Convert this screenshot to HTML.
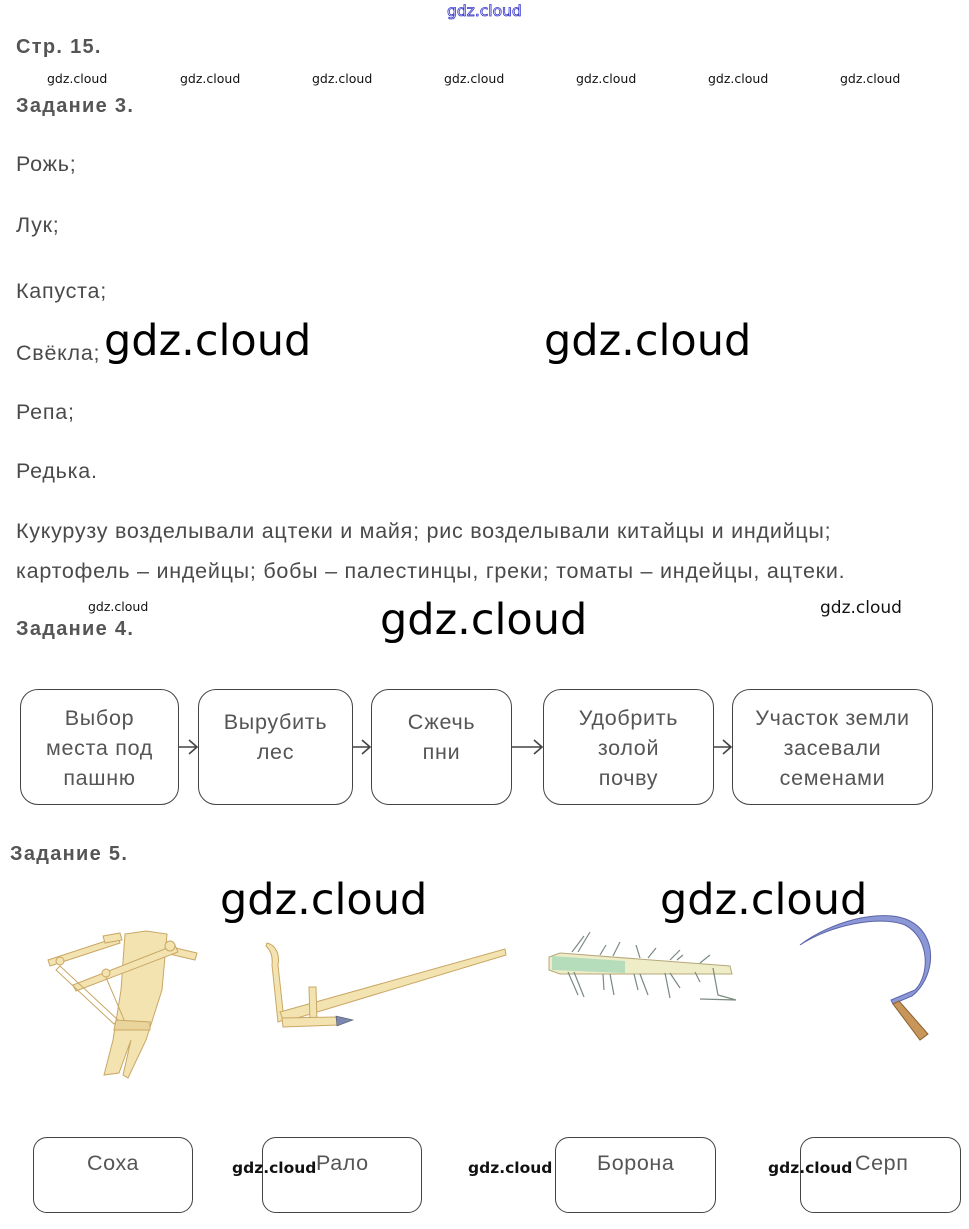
<!DOCTYPE html>
<html><head><meta charset="utf-8">
<style>
html,body{margin:0;padding:0;background:#fff;}
body{width:969px;height:1229px;position:relative;overflow:hidden;font-family:"Liberation Sans",Arial,sans-serif;color:#4a4a4a;}
.a{position:absolute;white-space:nowrap;}
.t{font-size:21.5px;line-height:30px;color:#4a4a4a;letter-spacing:0.75px;}
.h{font-size:20px;line-height:26px;font-weight:bold;color:#555;letter-spacing:1.3px;}
.ws{font-family:"DejaVu Sans","Liberation Sans",sans-serif;font-size:12.5px;line-height:16px;color:#111;}
.wm{font-family:"DejaVu Sans","Liberation Sans",sans-serif;font-size:17px;line-height:20px;color:#111;}
.wbb{font-family:"DejaVu Sans","Liberation Sans",sans-serif;font-size:15.5px;line-height:20px;color:#111;font-weight:bold;}
.wb{font-family:"DejaVu Sans","Liberation Sans",sans-serif;font-size:43px;line-height:56px;color:#000;}
.box{position:absolute;border:1.5px solid #444;border-radius:18px;box-sizing:border-box;text-align:center;font-size:21.5px;line-height:30px;color:#555;letter-spacing:0.7px;}
.bb{position:absolute;border:1.3px solid #444;border-radius:14px;box-sizing:border-box;}
.bt{position:absolute;white-space:nowrap;font-size:21.5px;line-height:30px;color:#555;letter-spacing:0.6px;}
</style></head><body>

<div class="a" style="left:447px;top:1px;font-family:'DejaVu Sans',sans-serif;font-size:15.5px;line-height:20px;color:#fff;-webkit-text-stroke:0.8px #3333cc;">gdz.cloud</div>

<div class="a h" style="left:16px;top:34px;">Стр. 15.</div>
<div class="a ws" style="left:47px;top:71px;">gdz.cloud</div>
<div class="a ws" style="left:180px;top:71px;">gdz.cloud</div>
<div class="a ws" style="left:312px;top:71px;">gdz.cloud</div>
<div class="a ws" style="left:444px;top:71px;">gdz.cloud</div>
<div class="a ws" style="left:576px;top:71px;">gdz.cloud</div>
<div class="a ws" style="left:708px;top:71px;">gdz.cloud</div>
<div class="a ws" style="left:840px;top:71px;">gdz.cloud</div>
<div class="a h" style="left:16px;top:93px;">Задание 3.</div>

<div class="a t" style="left:16px;top:149px;">Рожь;</div>
<div class="a t" style="left:16px;top:210px;">Лук;</div>
<div class="a t" style="left:16px;top:276px;">Капуста;</div>
<div class="a t" style="left:16px;top:338px;">Свёкла;</div>
<div class="a t" style="left:16px;top:397px;">Репа;</div>
<div class="a t" style="left:16px;top:456px;">Редька.</div>
<div class="a t" style="left:16px;top:516px;">Кукурузу возделывали ацтеки и майя; рис возделывали китайцы и индийцы;</div>
<div class="a t" style="left:16px;top:556px;">картофель – индейцы; бобы – палестинцы, греки; томаты – индейцы, ацтеки.</div>

<div class="a wb" style="left:104px;top:313px;">gdz.cloud</div>
<div class="a wb" style="left:544px;top:313px;">gdz.cloud</div>

<div class="a ws" style="left:88px;top:599px;">gdz.cloud</div>
<div class="a h" style="left:16px;top:616px;">Задание 4.</div>
<div class="a wb" style="left:380px;top:592px;">gdz.cloud</div>
<div class="a wm" style="left:820px;top:598px;">gdz.cloud</div>

<div class="box" style="left:20px;top:689px;width:159px;height:116px;padding-top:13px;">Выбор<br>места под<br>пашню</div>
<div class="box" style="left:198px;top:689px;width:155px;height:116px;padding-top:17px;">Вырубить<br>лес</div>
<div class="box" style="left:371px;top:689px;width:141px;height:116px;padding-top:17px;">Сжечь<br>пни</div>
<div class="box" style="left:543px;top:689px;width:171px;height:116px;padding-top:13px;">Удобрить<br>золой<br>почву</div>
<div class="box" style="left:732px;top:689px;width:201px;height:116px;padding-top:13px;">Участок земли<br>засевали<br>семенами</div>

<svg class="a" style="left:0;top:0;" width="969" height="1229" viewBox="0 0 969 1229">
<g stroke="#444" stroke-width="1.6" fill="none">
<path d="M179 747 L197 747 M189 740 L197 747 L189 754"/>
<path d="M353 747 L370 747 M362 740 L370 747 L362 754"/>
<path d="M512 747 L542 747 M534 740 L542 747 L534 754"/>
<path d="M714 747 L731 747 M723 740 L731 747 L723 754"/>
</g>

<!-- Соха -->
<g stroke="#c9a765" stroke-width="1" fill="#f3e3b0">
<path d="M125 934 L146 931 L167 934 L162 990 L146 1040 L128 1078 L123 1075 L131 1040 L119 1073 L104 1075 L113 1040 L121 990 Z"/>
<path d="M48 960 L118 937 L120 943 L50 966 Z"/>
<path d="M103 936 L120 933 L122 940 L105 943 Z"/>
<path d="M167 946 L197 953 L195 960 L165 953 Z"/>
<path d="M73 985 L175 945 L178 952 L76 991 Z"/>
<path d="M60 966 L118 1020 L114 1024 L56 970 Z" fill="none"/>
<path d="M105 975 L125 1022" fill="none"/>
<path d="M116 1020 L150 1022 L150 1030 L114 1030 Z" fill="#e9d49c"/>
<circle cx="60" cy="961" r="4"/>
<circle cx="106" cy="973" r="4"/>
<circle cx="170" cy="946" r="5"/>
</g>

<!-- Рало -->
<g stroke="#c9a765" stroke-width="1" fill="#f3e3b0">
<path d="M267 943 C276 945 280 955 278 965 L284 1020 L278 1022 L272 965 C273 955 270 950 266 946 Z"/>
<path d="M280 1012 L505 949 L506 955 L284 1022 Z"/>
<path d="M309 987 L316 987 L317 1022 L310 1022 Z"/>
<path d="M282 1018 L336 1017 L338 1025 L283 1027 Z"/>
</g>
<path d="M336 1016 L353 1020 L337 1026 Z" fill="#7a88b0" stroke="#556" stroke-width="0.6"/>

<!-- Борона -->
<g stroke="#b5a87a" stroke-width="1">
<path d="M549 957 L560 953 L730 966 L732 974 L560 974 L549 970 Z" fill="#efedc8"/>
<path d="M552 956 L625 961 L625 973 L552 970 Z" fill="#a8d8b8" stroke="none" opacity="0.8"/>
<g stroke="#7a8a80" stroke-width="1.2" fill="none">
<path d="M572 952 L584 936"/><path d="M578 952 L590 932"/>
<path d="M600 955 L606 945"/><path d="M613 956 L620 942"/>
<path d="M640 958 L636 945"/><path d="M648 958 L656 948"/>
<path d="M670 960 L680 950"/><path d="M677 960 L683 955"/>
<path d="M700 963 L710 955"/>
<path d="M568 972 L578 995"/><path d="M574 972 L584 997"/>
<path d="M603 974 L604 990"/><path d="M610 974 L614 995"/>
<path d="M634 974 L638 990"/><path d="M640 974 L648 995"/>
<path d="M665 973 L670 998"/><path d="M670 973 L680 988"/>
<path d="M695 972 L700 982"/>
<path d="M713 968 L718 995 L736 1000 L700 999"/>
</g>
</g>

<!-- Серп -->
<path d="M800 945 C830 925 880 915 905 925 C930 938 930 975 915 990 L891 1000 L893 1004 L912 996 C935 978 940 935 908 920 C880 908 830 922 800 945 Z" fill="#8c98d6" stroke="#5a64a8" stroke-width="1"/>
<path d="M893 1004 L899 1001 L928 1034 L920 1040 Z" fill="#c8965a" stroke="#8a6030" stroke-width="1"/>
</svg>

<div class="a h" style="left:10px;top:841px;">Задание 5.</div>
<div class="a wb" style="left:220px;top:872px;">gdz.cloud</div>
<div class="a wb" style="left:660px;top:872px;">gdz.cloud</div>

<div class="bb" style="left:33px;top:1137px;width:160px;height:76px;"></div>
<div class="bb" style="left:262px;top:1137px;width:160px;height:76px;"></div>
<div class="bb" style="left:555px;top:1137px;width:161px;height:76px;"></div>
<div class="bb" style="left:800px;top:1137px;width:161px;height:76px;"></div>
<div class="bt" style="left:87px;top:1148px;">Соха</div>
<div class="bt" style="left:316px;top:1148px;">Рало</div>
<div class="bt" style="left:597px;top:1148px;">Борона</div>
<div class="bt" style="left:855px;top:1148px;">Серп</div>
<div class="a wbb" style="left:232px;top:1158px;">gdz.cloud</div>
<div class="a wbb" style="left:468px;top:1158px;">gdz.cloud</div>
<div class="a wbb" style="left:768px;top:1158px;">gdz.cloud</div>

</body></html>
